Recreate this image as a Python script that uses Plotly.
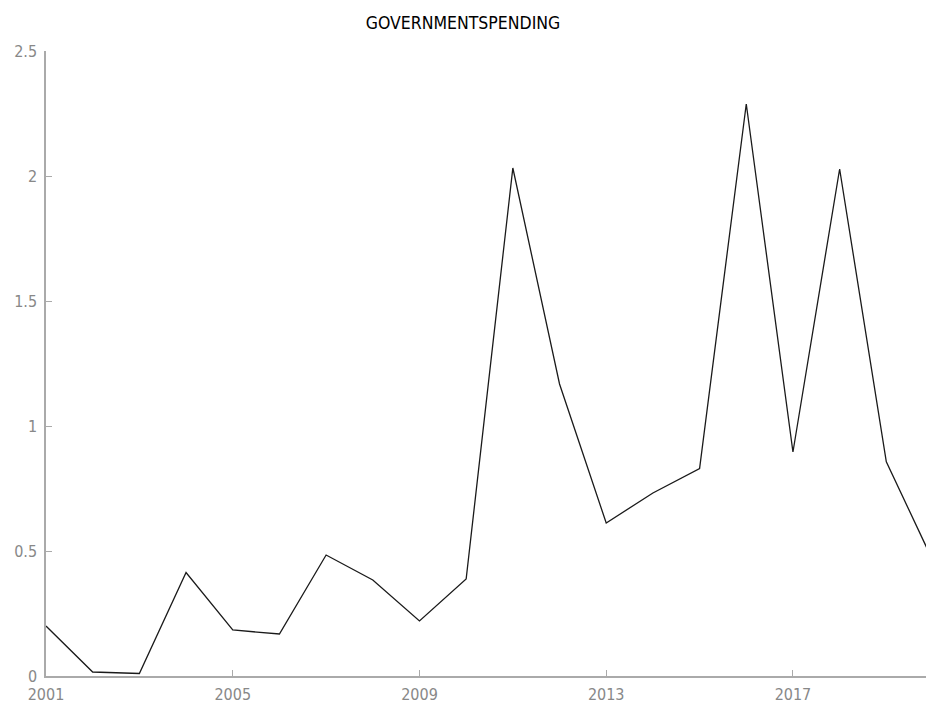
import plotly.graph_objects as go

years = [2001, 2002, 2003, 2004, 2005, 2006, 2007, 2008, 2009, 2010,
         2011, 2012, 2013, 2014, 2015, 2016, 2017, 2018, 2019, 2020]
spending = [0.20, 0.016, 0.010, 0.414, 0.184, 0.168, 0.484, 0.384, 0.220, 0.388,
            2.032, 1.168, 0.612, 0.732, 0.830, 2.288, 0.896, 2.028, 0.857, 0.46]
x_ticks = [2001, 2005, 2009, 2013, 2017]
y_ticks = [0, 0.5, 1, 1.5, 2, 2.5]
y_tick_labels = ["0", "0.5", "1", "1.5", "2", "2.5"]

fig = go.Figure()
fig.add_trace(go.Scatter(x=years, y=spending, mode="lines",
                         line=dict(color="#1a1a1a", width=1.3),
                         hoverinfo="x+y", showlegend=False))

font_family = "DejaVu Sans Condensed, DejaVu Sans, sans-serif"
fig.update_layout(
    width=926, height=704,
    margin=dict(l=46, r=0, t=51, b=28, autoexpand=False),
    paper_bgcolor="white", plot_bgcolor="white",
    title=dict(text="GOVERNMENTSPENDING", x=0.5, xanchor="center",
               y=1 - 23 / 704, yanchor="middle",
               font=dict(family=font_family, size=17.5, color="#000000")),
    font=dict(family=font_family),
)
fig.update_xaxes(range=[2001, 2019.85], tickvals=x_ticks, automargin=False,
                 ticks="inside", ticklen=6, tickcolor="#aaaaaa",
                 showline=True, linecolor="#aaaaaa", linewidth=1.5,
                 showgrid=False, zeroline=False, ticklabelstandoff=3,
                 tickfont=dict(family=font_family, size=16, color="#888888"))
fig.update_yaxes(range=[0, 2.5], tickvals=y_ticks, ticktext=y_tick_labels,
                 automargin=False,
                 ticks="inside", ticklen=6, tickcolor="#aaaaaa",
                 showline=True, linecolor="#aaaaaa", linewidth=1.5,
                 showgrid=False, zeroline=False, ticklabelstandoff=4,
                 tickfont=dict(family=font_family, size=16, color="#888888"))

fig.write_html("out.html")
